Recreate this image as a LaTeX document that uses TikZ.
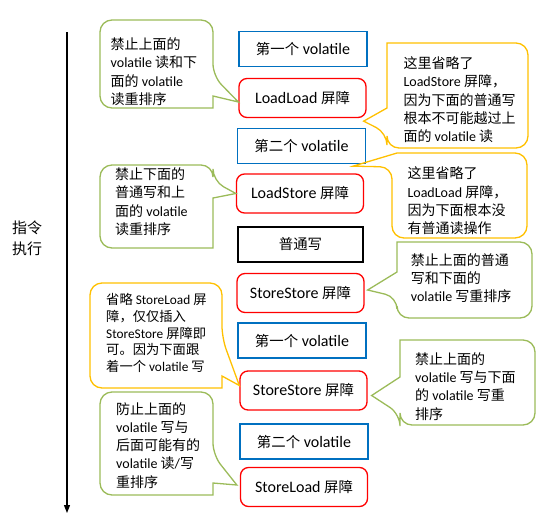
\documentclass[tikz,border=0pt]{standalone}
\usepackage{fontspec}
\setmainfont{Carlito}
\newfontfamily\zh{Noto Sans CJK SC}
\newfontfamily\zhb{Noto Sans CJK SC}[Scale=0.9]
\usetikzlibrary{arrows.meta,calc}

\definecolor{vblue}{RGB}{0,112,192}
\definecolor{bred}{RGB}{255,0,0}
\definecolor{bgreen}{RGB}{155,187,89}
\definecolor{bgold}{RGB}{255,192,0}

\tikzset{
  vbox/.style={draw=vblue,line width=1.3pt,minimum width=128pt,minimum height=35pt,inner sep=0pt,font=\fontsize{16}{19}\selectfont},
  barrier/.style={draw=bred,rounded corners=8pt,line width=1.3pt,minimum width=127pt,minimum height=39pt,inner sep=0pt,font=\fontsize{16}{19}\selectfont},
  writebox/.style={draw=black,line width=1.3pt,minimum width=125pt,minimum height=35pt,inner sep=0pt,font=\fontsize{16}{19}\selectfont},
  gbub/.style={draw=bgreen,line width=1.3pt},
  obub/.style={draw=bgold,line width=1.3pt},
  btext/.style={anchor=west,align=left,inner sep=0pt,font=\fontsize{14}{18.3}\selectfont},
}

\begin{document}
\begin{tikzpicture}[x=1pt,y=-1pt]

\useasboundingbox (0,0) rectangle (560,528);

%% - Draw execution arrow
%% - --------------------------------------
\coordinate (start) at (67,32);
\coordinate (stop) at (67,513);
\draw[line width=1.2pt,-{Triangle[length=8pt,width=6pt]}] (start) -- (stop);
\node[anchor=west,align=left,inner sep=0pt,font=\zh\fontsize{15}{21}\selectfont] (exec) at (12,238) {指令\\执行};

%% - Draw instruction boxes
%% - --------------------------------------
\node[vbox] (vola) at (303,49) {{\zhb 第一个} volatile};
\node[barrier] (ll) at (302.5,98) {LoadLoad {\zhb 屏障}};
\node[vbox] (volb) at (301.5,146) {{\zhb 第二个} volatile};
\node[barrier] (ls) at (300,193.5) {LoadStore {\zhb 屏障}};
\node[writebox] (pw) at (300.5,244.5) {{\zhb 普通写}};
\node[barrier] (ssa) at (300.5,293) {StoreStore {\zhb 屏障}};
\node[vbox] (volc) at (302,340.5) {{\zhb 第一个} volatile};
\node[barrier] (ssb) at (303.5,390.5) {StoreStore {\zhb 屏障}};
\node[vbox] (vold) at (304,441.5) {{\zhb 第二个} volatile};
\node[barrier] (sl) at (304,487) {StoreLoad {\zhb 屏障}};

%% - Tips of the bubbles
%% - --------------------------------------
\coordinate (tipa) at ($(ll.west)+(0,4)$);
\coordinate (tipb) at (ls.west);
\coordinate (tipc) at ($(ssb.west)+(0,-5)$);
\coordinate (tipd) at ($(sl.west)+(-3,-2)$);
\coordinate (tipe) at ($(ll.south east)+(-3,3)$);
\coordinate (tipf) at ($(volb.south east)+(-13,2)$);
\coordinate (tipg) at ($(ssa.east)+(3,-3)$);
\coordinate (tiph) at ($(ssb.east)+(4,5)$);

%% - Draw left bubbles
%% - --------------------------------------
\draw[gbub] (156,20) [rounded corners=12pt] -- (213,20) -- (213,76) [sharp corners] -- (tipa) -- (213,96) -- (213,108) [rounded corners=12pt] -- (100,108) -- (100,20) -- cycle;
\draw[gbub] (156,165) [rounded corners=12pt] -- (213,165) -- (213,181) [sharp corners] -- (tipb) -- (213,198) -- (213,248) [rounded corners=12pt] -- (100,248) -- (100,165) -- cycle;
\draw[obub] (156,283) [rounded corners=12pt] -- (222,283) -- (222,338) [sharp corners] -- (tipc) -- (222,376) -- (222,388) [rounded corners=12pt] -- (90,388) -- (90,283) -- cycle;
\draw[gbub] (156,392) [rounded corners=12pt] -- (213,392) -- (213,455) [sharp corners] -- (tipd) -- (213,483) -- (213,495) [rounded corners=12pt] -- (100,495) -- (100,392) -- cycle;

%% - Draw right bubbles
%% - --------------------------------------
\draw[obub] (457,43) [rounded corners=12pt] -- (528,43) -- (528,148) -- (387,148) -- (387,133) [sharp corners] -- (tipe) -- (387,108) -- (387,43) [rounded corners=12pt] -- cycle;
\draw[obub] (460,153) [rounded corners=12pt] -- (527,153) -- (527,238) -- (392,238) -- (392,167) [sharp corners] -- (tipf) -- (397,153) -- cycle;
\draw[gbub] (465,242) [rounded corners=12pt] -- (532,242) -- (532,318) -- (397,318) -- (397,297) [sharp corners] -- (tipg) -- (397,272) -- (397,242) [rounded corners=12pt] -- cycle;
\draw[gbub] (468,340) [rounded corners=12pt] -- (535,340) -- (535,425) -- (400,425) -- (400,414) [sharp corners] -- (tiph) -- (400,377) -- (400,340) [rounded corners=12pt] -- cycle;

%% - Draw bubble text
%% - --------------------------------------
\node[btext] (notea) at (110.5,71.8) {{\zh 禁止上面的}\\volatile {\zh 读和下}\\{\zh 面的} volatile\\{\zh 读重排序}};
\node[btext] (noteb) at (115,201.7) {{\zh 禁止下面的}\\{\zh 普通写和上}\\{\zh 面的} volatile\\{\zh 读重排序}};
\node[btext,font=\fontsize{13.3}{16.8}\selectfont] (notec) at (106,333) {{\zh 省略} StoreLoad {\zh 屏}\\{\zh 障，仅仅插入}\\StoreStore {\zh 屏障即}\\{\zh 可。因为下面跟}\\{\zh 着一个} volatile {\zh 写}};
\node[btext] (noted) at (116,445.3) {{\zh 防止上面的}\\volatile {\zh 写与}\\{\zh 后面可能有的}\\volatile {\zh 读}/{\zh 写}\\{\zh 重排序}};
\node[btext] (notee) at (403.3,99.7) {{\zh 这里省略了}\\LoadStore {\zh 屏障，}\\{\zh 因为下面的普通写}\\{\zh 根本不可能越过上}\\{\zh 面的} volatile {\zh 读}};
\node[btext] (notef) at (407.3,201) {{\zh 这里省略了}\\LoadLoad {\zh 屏障，}\\{\zh 因为下面根本没}\\{\zh 有普通读操作}};
\node[btext] (noteg) at (410.7,278.3) {{\zh 禁止上面的普通}\\{\zh 写和下面的}\\volatile {\zh 写重排序}};
\node[btext] (noteh) at (415,386.4) {{\zh 禁止上面的}\\volatile {\zh 写与下面}\\{\zh 的} volatile {\zh 写重}\\{\zh 排序}};

\end{tikzpicture}
\end{document}
